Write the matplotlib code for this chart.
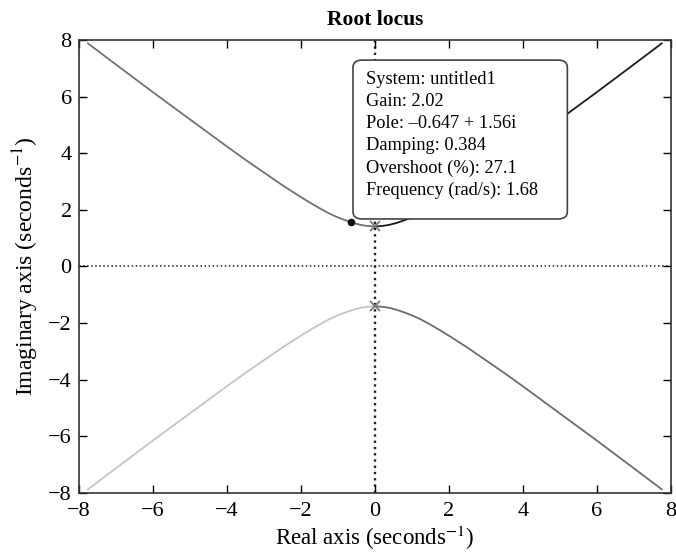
import matplotlib
matplotlib.use("Agg")
import matplotlib.pyplot as plt
from matplotlib.patches import FancyBboxPatch

plt.rcParams['font.family'] = ['Liberation Serif', 'DejaVu Serif']
plt.rcParams['mathtext.fontset'] = 'stix'

# branch shape (|real|, |imag|), starting at the pole
branch_re = [0.0, 0.1, 0.25, 0.4, 0.6, 0.8, 1.0, 1.25, 1.5, 1.75, 2.0, 2.5,
             3.0, 3.5, 4.0, 5.0, 6.0, 7.0, 7.75]
branch_im = [1.41, 1.418, 1.436, 1.47, 1.54, 1.63, 1.73, 1.88, 2.06, 2.25,
             2.45, 2.87, 3.32, 3.77, 4.24, 5.20, 6.16, 7.14, 7.88]

# quadrant of each branch and its colour
branch_sign = [(-1, 1), (1, 1), (-1, -1), (1, -1)]
branch_color = ['#727272', '#1c1c1c', '#c4c4c4', '#6c6c6c']

poles_re = [0.0, 0.0]
poles_im = [1.41, -1.41]

tip_re, tip_im = -0.647, 1.56
tip_lines = ["System: untitled1",
             "Gain: 2.02",
             "Pole: \u20130.647 + 1.56i",
             "Damping: 0.384",
             "Overshoot (%): 27.1",
             "Frequency (rad/s): 1.68"]

ticks = [-8, -6, -4, -2, 0, 2, 4, 6, 8]

fig = plt.figure(figsize=(6.76, 5.57), dpi=100)
ax = fig.add_axes([0.1164, 0.1154, 0.8762, 0.8128])

ax.axhline(0, color='#222222', ls=':', lw=1.1, zorder=1)
ax.axvline(0, color='#222222', ls=':', lw=1.7, zorder=1)

for (sx, sy), c in zip(branch_sign, branch_color):
    ax.plot([sx * v for v in branch_re], [sy * v for v in branch_im],
            color=c, lw=1.3, zorder=2)

ax.plot(poles_re, poles_im, 'x', color='#7a7a7a', ms=7, mew=1.3, zorder=3)
ax.plot([tip_re], [tip_im], 'o', color='#111111', ms=4.5, zorder=4)

# datatip box
box = FancyBboxPatch((-0.59, 1.675), 5.79, 5.615,
                     boxstyle='round,pad=0,rounding_size=0.25',
                     fc='white', ec='#444444', lw=1.2, zorder=5)
ax.add_patch(box)
ax.text(-0.24, 6.92, "\n".join(tip_lines), ha='left', va='top',
        fontsize=13.2, linespacing=1.4, zorder=6)

ax.set_xlim(-8, 8)
ax.set_ylim(-8, 8)
ax.set_xticks(ticks)
ax.set_yticks(ticks)
ax.tick_params(direction='in', length=6, width=1, top=True, right=True,
               labelsize=16)
ax.tick_params(axis='x', pad=7)
ax.tick_params(axis='y', pad=5)
for s in ax.spines.values():
    s.set_color('#333333')
    s.set_linewidth(1.2)

ax.set_title('Root locus', fontsize=15.5, fontweight='bold', pad=11)
ax.set_xlabel('Real axis (seconds$^{-1}$)', fontsize=16.5, labelpad=2)
ax.set_ylabel('Imaginary axis (seconds$^{-1}$)', fontsize=17, labelpad=5)

fig.savefig('out.png', dpi=100)
